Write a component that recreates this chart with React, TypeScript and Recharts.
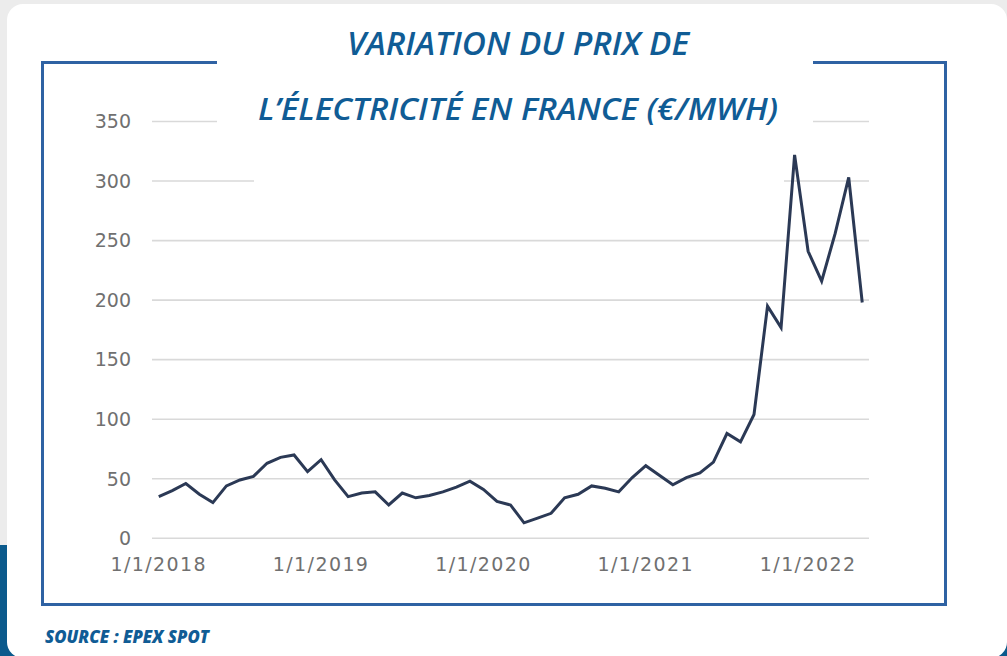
import React from "react";
import { LineChart, Line, XAxis, YAxis, CartesianGrid } from "recharts";

// Monthly EPEX spot prices, France (€/MWh), Jan 2018 – May 2022
const prices: number[] = [
  35, 40, 46, 37, 30, 44, 49, 52, 63, 68, 70, 56,
  66, 49, 35, 38, 39, 28, 38, 34, 36, 39, 43, 48,
  41, 31, 28, 13, 17, 21, 34, 37, 44, 42, 39, 51,
  61, 53, 45, 51, 55, 64, 88, 81, 104, 195, 177, 322,
  241, 216, 256, 303, 198,
];
const startYear = 2018;
const yTicks: number[] = [0, 50, 100, 150, 200, 250, 300, 350];
const yearLabels: string[] = ["1/1/2018", "1/1/2019", "1/1/2020", "1/1/2021", "1/1/2022"];
const titleLine1 = "VARIATION DU PRIX DE";
const titleLine2 = "L’ÉLECTRICITÉ EN FRANCE (€/MWH)";
const sourceText = "SOURCE : EPEX SPOT";

// month index (category) -> x position in "months since Jan 2018", centred in the month
const data = prices.map((v, i) => ({
  month: `${startYear + Math.floor(i / 12)}-${String((i % 12) + 1).padStart(2, "0")}`,
  x: i + 0.5,
  price: v,
}));
const boundaryTicks = yearLabels.map((_, k) => k * 12);
const labelTicks = yearLabels.map((_, k) => k * 12 + 0.5);
const labelFor = (v: number) => yearLabels[Math.round((v - 0.5) / 12)] ?? "";

const TITLE_BLUE = "#105c95";
const FRAME_BLUE = "#2f62a3";

export default function App() {
  return (
    <div style={{ position: "fixed", left: 0, top: 0, width: 1007, height: 656, background: "#ececec", overflow: "hidden" }}>
      {/* blue backdrop pieces */}
      <div style={{ position: "absolute", left: 0, top: 545, width: 30, height: 111, background: "#0b5a8c" }} />
      <div style={{ position: "absolute", left: 0, top: 636, width: 1007, height: 20, background: "#0b5a8c" }} />
      {/* white card */}
      <div style={{ position: "absolute", left: 7, top: 4, width: 1000, height: 654, background: "#ffffff", borderRadius: 16 }} />
      {/* frame */}
      <div style={{ position: "absolute", left: 41, top: 61, width: 906, height: 545, border: `3px solid ${FRAME_BLUE}`, boxSizing: "border-box" }} />
      {/* chart */}
      <div style={{ position: "absolute", left: 0, top: 0 }}>
        <LineChart
          width={1007}
          height={656}
          data={data}
          margin={{ top: 121.5, right: 138, left: 0, bottom: 87.7 }}
        >
          <CartesianGrid horizontal vertical={false} stroke="#d9d9d9" strokeWidth={1.6} />
          <XAxis
            xAxisId="b"
            type="number"
            dataKey="x"
            domain={[0, 53]}
            ticks={boundaryTicks}
            allowDataOverflow
            height={0}
            tickFormatter={() => ""}
            tickSize={5}
            axisLine={{ stroke: "#d9d9d9", strokeWidth: 1.6 }}
            tickLine={{ stroke: "#d0d0d0", strokeWidth: 1.4 }}
          />
          <XAxis
            xAxisId="l"
            type="number"
            dataKey="x"
            domain={[0, 53]}
            ticks={labelTicks}
            allowDataOverflow
            height={30}
            axisLine={false}
            tickLine={false}
            tickSize={0}
            tickMargin={19}
            tickFormatter={labelFor}
            tick={{ fill: "#707070", fontSize: 19, fontFamily: "DejaVu Sans", letterSpacing: 1.4 }}
          />
          <YAxis
            type="number"
            domain={[0, 350]}
            ticks={yTicks}
            width={152}
            axisLine={false}
            tickLine={false}
            tickSize={0}
            tickMargin={21}
            tick={{ fill: "#707070", fontSize: 19, fontFamily: "DejaVu Sans" }}
          />
          <Line
            xAxisId="l"
            type="linear"
            dataKey="price"
            stroke="#2b3955"
            strokeWidth={3}
            dot={false}
            isAnimationActive={false}
          />
        </LineChart>
      </div>
      {/* title backgrounds */}
      <div style={{ position: "absolute", left: 217, top: 45, width: 596, height: 95, background: "#ffffff" }} />
      <div style={{ position: "absolute", left: 254, top: 135, width: 530, height: 53, background: "#ffffff" }} />
      {/* title and source text */}
      <svg width={1007} height={656} style={{ position: "absolute", left: 0, top: 0 }}>
        <text x={347} y={55} fontFamily="Open Sans" fontStyle="italic" fontWeight={600} fontSize={32}
          fill={TITLE_BLUE} textLength={342} lengthAdjust="spacingAndGlyphs">{titleLine1}</text>
        <text x={258} y={120} fontFamily="Open Sans" fontStyle="italic" fontWeight={600} fontSize={30.5}
          fill={TITLE_BLUE} textLength={520} lengthAdjust="spacingAndGlyphs">{titleLine2}</text>
        <text x={45} y={642.5} fontFamily="Open Sans" fontStyle="italic" fontWeight={800} fontSize={17.5}
          fill={TITLE_BLUE} textLength={164} lengthAdjust="spacingAndGlyphs">{sourceText}</text>
      </svg>
    </div>
  );
}
